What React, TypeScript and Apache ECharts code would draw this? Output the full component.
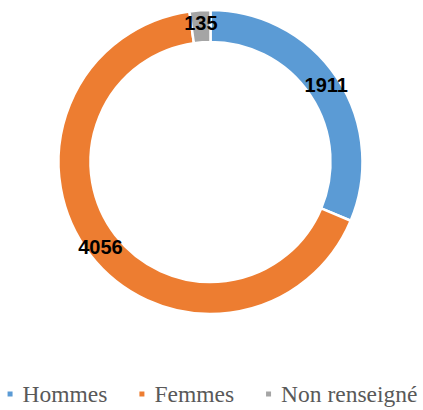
import React, { useEffect, useRef } from "react";
import * as echarts from "echarts";

const categories = ["Hommes", "Femmes", "Non renseigné"];
const values = [1911, 4056, 135];
const colors = ["#5B9BD5", "#ED7D31", "#A5A5A5"];

export default function App() {
  const ref = useRef<HTMLDivElement>(null);
  useEffect(() => {
    if (!ref.current) return;
    const chart = echarts.init(ref.current, undefined, { renderer: "svg" });
    chart.setOption({
      animation: false,
      backgroundColor: "#ffffff",
      color: colors,
      legend: {
        data: categories,
        left: "center",
        top: 377,
        icon: "rect",
        itemWidth: 7,
        itemHeight: 7,
        itemGap: 30,
        textStyle: {
          fontFamily: "Liberation Serif",
          fontSize: 23.5,
          color: "#595959",
          padding: [0, 0, 0, 4],
        },
      },
      series: [
        {
          type: "pie",
          center: [210.5, 162],
          radius: [120, 152],
          startAngle: 90,
          clockwise: true,
          avoidLabelOverlap: false,
          itemStyle: { borderColor: "#ffffff", borderWidth: 2.5 },
          label: {
            show: true,
            position: "inside",
            formatter: "{c}",
            color: "#000000",
            fontFamily: "Liberation Sans",
            fontWeight: "bold",
            fontSize: 20,
          },
          labelLine: { show: false },
          emphasis: { disabled: true },
          data: categories.map((name, i) => ({ name, value: values[i] })),
        },
      ],
    });
    return () => chart.dispose();
  }, []);
  return (
    <div
      ref={ref}
      style={{ position: "absolute", left: 0, top: 0, width: 423, height: 410 }}
    />
  );
}
